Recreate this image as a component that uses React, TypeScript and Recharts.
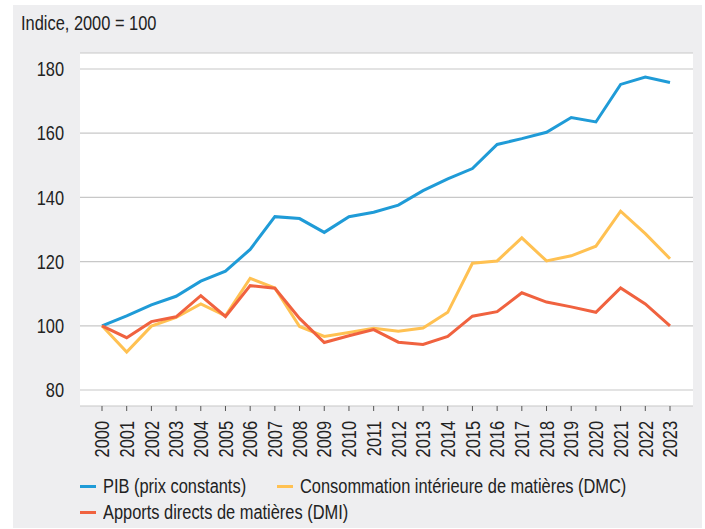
import { LineChart, Line, XAxis, YAxis, CartesianGrid } from 'recharts'

// no condensed face is installed, so Liberation Sans is squeezed to look like Arial Narrow
const FONT = "'Liberation Sans', Arial, sans-serif"
const SQUEEZE = 0.82

const years = [
  '2000', '2001', '2002', '2003', '2004', '2005', '2006', '2007', '2008', '2009', '2010', '2011',
  '2012', '2013', '2014', '2015', '2016', '2017', '2018', '2019', '2020', '2021', '2022', '2023',
]

const pib = [
  100, 103.1, 106.5, 109.2, 113.9, 117, 123.8, 134, 133.4, 129.1, 134, 135.4,
  137.6, 142.1, 145.8, 149, 156.5, 158.3, 160.3, 164.9, 163.5, 175.2, 177.5, 175.8,
]

const dmc = [
  100, 91.8, 99.9, 102.6, 106.8, 103.1, 114.8, 111.8, 99.8, 96.7, 97.9, 99.2,
  98.3, 99.3, 104.2, 119.5, 120.2, 127.4, 120.2, 121.8, 124.8, 135.7, 128.7, 120.9,
]

const dmi = [
  100, 96.3, 101.3, 102.8, 109.4, 102.9, 112.5, 111.7, 102.3, 94.8, 96.9, 98.8,
  94.9, 94.2, 96.7, 103, 104.4, 110.3, 107.4, 105.9, 104.2, 111.8, 106.8, 100,
]

const yTicks = [80, 100, 120, 140, 160, 180]

const series = [
  { key: 'pib', name: 'PIB (prix constants)', color: '#1f9bd7' },
  { key: 'dmc', name: 'Consommation intérieure de matières (DMC)', color: '#ffc152' },
  { key: 'dmi', name: 'Apports directs de matières (DMI)', color: '#f0623f' },
]

const data = years.map((year, i) => ({ year, pib: pib[i], dmc: dmc[i], dmi: dmi[i] }))

function YearTick({ x, y, payload }: any) {
  return (
    <g transform={`translate(${x},${y}) rotate(-90)`}>
      <text transform={`scale(${SQUEEZE},1)`} dy="0.36em" textAnchor="end" fill="#222" fontSize={20} fontFamily={FONT}>
        {payload.value}
      </text>
    </g>
  )
}

function ValueTick({ x, y, payload }: any) {
  return (
    <g transform={`translate(${x},${y})`}>
      <text transform={`scale(${SQUEEZE},1)`} dy="0.36em" textAnchor="end" fill="#222" fontSize={20} fontFamily={FONT}>
        {payload.value}
      </text>
    </g>
  )
}

// legend sits in two rows, like the original
const legendPos = [
  { left: 67, top: 481 },
  { left: 264, top: 481 },
  { left: 67, top: 507 },
]

const squeezed = {
  display: 'inline-block',
  transform: `scaleX(${SQUEEZE})`,
  transformOrigin: 'left center',
}

export default function App() {
  return (
    <div
      style={{
        position: 'absolute',
        left: 13,
        top: 5,
        width: 689,
        height: 523,
        background: '#eeeef0',
        fontFamily: FONT,
        color: '#222',
      }}
    >
      <div style={{ position: 'absolute', left: 8, top: 6, fontSize: 20, lineHeight: '24px', whiteSpace: 'nowrap' }}>
        <span style={squeezed}>Indice, 2000 = 100</span>
      </div>
      <div style={{ position: 'absolute', left: 0, top: 0 }}>
        <LineChart width={689} height={470} data={data} margin={{ top: 48, right: 9, bottom: 0, left: 0 }}>
          <CartesianGrid vertical={false} stroke="#c8c8c8" strokeWidth={1.2} fill="#ffffff" />
          <XAxis
            dataKey="year"
            interval={0}
            height={69}
            axisLine={false}
            tickLine={{ stroke: '#555' }}
            tickSize={5}
            tickMargin={10}
            padding={{ left: 22, right: 23 }}
            tick={<YearTick />}
          />
          <YAxis
            domain={[80, 180]}
            ticks={yTicks}
            width={67}
            axisLine={false}
            tickLine={false}
            tickSize={0}
            tickMargin={16}
            padding={{ top: 16, bottom: 16 }}
            tick={<ValueTick />}
          />
          {series.map((s) => (
            <Line
              key={s.key}
              dataKey={s.key}
              name={s.name}
              stroke={s.color}
              strokeWidth={3}
              dot={false}
              activeDot={false}
              isAnimationActive={false}
            />
          ))}
        </LineChart>
      </div>
      {series.map((s, i) => (
        <div
          key={s.key}
          style={{
            position: 'absolute',
            left: legendPos[i].left,
            top: legendPos[i].top - 12,
            height: 24,
            display: 'flex',
            alignItems: 'center',
            fontSize: 20,
            whiteSpace: 'nowrap',
          }}
        >
          <span style={{ display: 'inline-block', width: 16, height: 3, background: s.color, marginRight: 7 }} />
          <span style={squeezed}>{s.name}</span>
        </div>
      ))}
    </div>
  )
}
